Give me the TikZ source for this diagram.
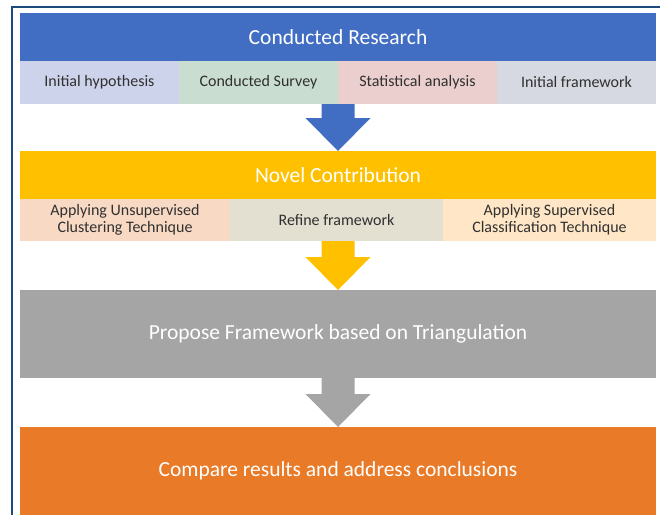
\documentclass[tikz,border=0pt]{standalone}
\usepackage{fontspec}
\setmainfont{Carlito}
\usetikzlibrary{calc}

\definecolor{framecol}{HTML}{1C4A7A}
\definecolor{hdrblue}{HTML}{416EC2}
\definecolor{hdryellow}{HTML}{FFC000}
\definecolor{hdrgray}{HTML}{A5A5A5}
\definecolor{hdrorange}{HTML}{E97A27}
\definecolor{cellhyp}{HTML}{CDD3EA}
\definecolor{cellsurvey}{HTML}{C9DDD0}
\definecolor{cellstat}{HTML}{EBCFCE}
\definecolor{cellframe}{HTML}{D6D9E1}
\definecolor{cellunsup}{HTML}{F8D9C4}
\definecolor{cellrefine}{HTML}{E3DFD1}
\definecolor{cellsup}{HTML}{FEE6C6}
\definecolor{celltext}{HTML}{303030}

% block arrow pointing down from the bottom of one node to the top of another
\newcommand{\downblock}[3]{%
  \fill[#3] let \p1=(#1.south), \p2=(#2.north) in
    (\x1-16.5,\y1) -- (\x1+16.5,\y1) -- (\x1+16.5,\y2+33) -- (\x1+32.5,\y2+33)
    -- (\x1,\y2) -- (\x1-32.5,\y2+33) -- (\x1-16.5,\y2+33) -- cycle;}

\begin{document}
\begin{tikzpicture}[x=1pt,y=-1pt,
  band/.style={anchor=north west, inner sep=0pt, outer sep=0pt, text=white,
    font=\fontsize{21.5}{25}\selectfont},
  cell/.style={anchor=north west, inner sep=0pt, outer sep=0pt, text=celltext,
    font=\fontsize{16}{17}\selectfont, align=center}]
\useasboundingbox (0,0) rectangle (660,514);
\clip (0,0) rectangle (660,514);
\fill[white] (0,0) rectangle (660,514);

% outer frame
\draw[framecol, line width=2pt] (12,530) -- (12,7) -- (670,7);

% conducted research
\node[band, fill=hdrblue, minimum width=636pt, minimum height=48pt] (cr) at (20,13) {Conducted Research};
\node[cell, fill=cellhyp, minimum width=159pt, minimum height=43pt] (hyp) at (20,61) {Initial hypothesis};
\node[cell, fill=cellsurvey, minimum width=159pt, minimum height=43pt] (survey) at (179,61) {Conducted Survey};
\node[cell, fill=cellstat, minimum width=159pt, minimum height=43pt] (stat) at (338,61) {Statistical analysis};
\node[cell, fill=cellframe, minimum width=159pt, minimum height=43pt] (initfw) at (497,61) {Initial framework};
\coordinate (row1) at (338,104);

% novel contribution
\node[band, fill=hdryellow, minimum width=636pt, minimum height=48pt] (nc) at (20,151) {Novel Contribution};
\node[cell, fill=cellunsup, minimum width=210pt, minimum height=42pt] (unsup) at (20,199) {Applying Unsupervised\\Clustering Technique};
\node[cell, fill=cellrefine, minimum width=213pt, minimum height=42pt] (refine) at (230,199) {Refine framework};
\node[cell, fill=cellsup, minimum width=213pt, minimum height=42pt] (sup) at (443,199) {Applying Supervised\\Classification Technique};
\coordinate (row2) at (338,241);

% proposed framework
\node[band, fill=hdrgray, minimum width=636pt, minimum height=88pt] (pf) at (20,290) {Propose Framework based on Triangulation};

% conclusions
\node[band, fill=hdrorange, minimum width=636pt, minimum height=88pt] (cmp) at (20,427) {Compare results and address conclusions};

% block arrows between the stages
\downblock{row1}{nc}{hdrblue}
\downblock{row2}{pf}{hdryellow}
\downblock{pf}{cmp}{hdrgray}
\end{tikzpicture}
\end{document}
